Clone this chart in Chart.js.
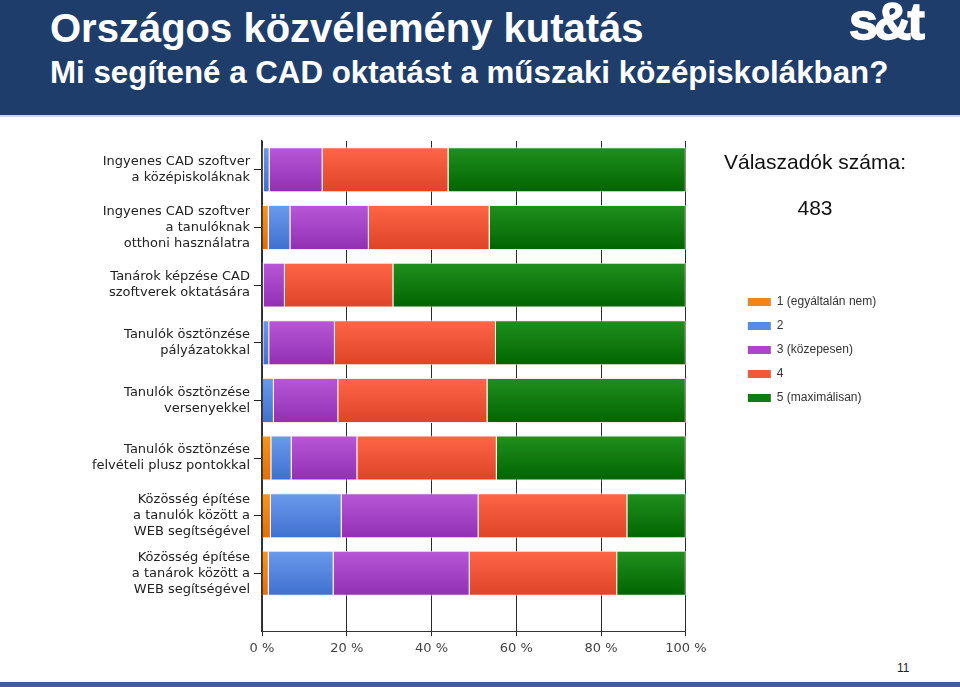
<!DOCTYPE html>
<html>
<head>
<meta charset="utf-8">
<script src="https://cdn.jsdelivr.net/npm/chart.js@4.4.1/dist/chart.umd.min.js"></script>
<style>
  html, body { margin: 0; padding: 0; width: 960px; height: 687px; overflow: hidden; background: #fff; }
  .head { position: absolute; left: 0; top: 0; width: 960px; height: 115px; background: #1e3d6b; border-bottom: 2px solid #cfd6e0; }
  .t1, .t2, .logo { position: absolute; color: #fff; font-family: "Liberation Sans", Arial, sans-serif; font-weight: bold; white-space: nowrap; }
  .t1 { left: 50px; top: 8px; font-size: 40px; line-height: 40px; }
  .t2 { left: 50px; top: 57px; font-size: 31.3px; line-height: 31px; }
  .logo { left: 849px; top: -5px; font-size: 52px; line-height: 52px; letter-spacing: -4px; -webkit-text-stroke: 1.5px #fff; }
  #wrap { position: absolute; left: 0; top: 125px; width: 960px; height: 545px; }
  .resp { position: absolute; left: 700px; width: 230px; text-align: center; font: 21px "Liberation Sans", Arial, sans-serif; color: #111; }
  .cut { position: absolute; left: 0; top: 652px; width: 960px; height: 28px; background: #fff; }
  .page { position: absolute; left: 897px; top: 661px; font: 12px "Liberation Sans", Arial, sans-serif; color: #222; }
  .foot { position: absolute; left: 0; top: 682px; width: 960px; height: 5px; background: #3e5f96; }
</style>
</head>
<body>
<div class="head">
  <div class="t1">Országos közvélemény kutatás</div>
  <div class="t2">Mi segítené a CAD oktatást a műszaki középiskolákban?</div>
  <div class="logo">s&amp;t</div>
</div>
<div id="wrap"><canvas id="chart"></canvas></div>
<div class="resp" style="top:150px">Válaszadók száma:</div>
<div class="resp" id="count" style="top:196px"></div>
<div class="cut"></div>
<div class="page">11</div>
<div class="foot"></div>

<script>
// kérdések (categories)
var categories = [
    ['Ingyenes CAD szoftver', 'a középiskoláknak'],
    ['Ingyenes CAD szoftver', 'a tanulóknak', 'otthoni használatra'],
    ['Tanárok képzése CAD', 'szoftverek oktatására'],
    ['Tanulók ösztönzése', 'pályázatokkal'],
    ['Tanulók ösztönzése', 'versenyekkel'],
    ['Tanulók ösztönzése', 'felvételi plusz pontokkal'],
    ['Közösség építése', 'a tanulók között a', 'WEB segítségével'],
    ['Közösség építése', 'a tanárok között a', 'WEB segítségével']
];

var seriesNames = ['1 (egyáltalán nem)', '2', '3 (közepesen)', '4', '5 (maximálisan)'];

// percent values per answer
var answer1 = [0.4, 1.6, 0.0, 0.3, 0.2, 2.2, 2.1, 1.6];
var answer2 = [1.4, 5.1, 0.4, 1.4, 2.6, 4.8, 16.7, 15.3];
var answer3 = [12.5, 18.5, 5.0, 15.5, 15.2, 15.5, 32.3, 32.1];
var answer4 = [29.7, 28.5, 25.6, 38.0, 35.2, 32.9, 35.1, 34.8];
var answer5 = [56.0, 46.3, 69.0, 44.8, 46.8, 44.6, 13.8, 16.2];

var xTicks = [0, 20, 40, 60, 80, 100];
var respondents = 483;

document.getElementById('count').textContent = respondents;

// chart colors: flat, gradient top, gradient bottom
var colors = ['#f08519', '#5b8be0', '#a848c8', '#f05a3c', '#137a17'];
var topColors = ['#f7961f', '#6b9bec', '#b858d8', '#ff6648', '#21901f'];
var bottomColors = ['#e06e08', '#3e6fcf', '#912fb2', '#dd4326', '#006400'];

var values = [answer1, answer2, answer3, answer4, answer5];

function barFill(i) {
    return function (ctx) {
        if (ctx.type !== 'data') return colors[i];
        var chart = ctx.chart;
        var yScale = chart.scales.y;
        if (!yScale || !ctx.parsed) return colors[i];
        var yc = yScale.getPixelForValue(ctx.parsed.y);
        var g = chart.ctx.createLinearGradient(0, yc - 23, 0, yc + 23);
        g.addColorStop(0, topColors[i]);
        g.addColorStop(1, bottomColors[i]);
        return g;
    };
}

var datasets = values.map(function (vals, i) {
    return {
        label: seriesNames[i],
        data: vals.map(function (v, j) { return { x: v, y: j }; }),
        backgroundColor: barFill(i),
        borderColor: 'rgba(255,232,222,0.85)',
        borderWidth: 1,
        xAxisID: 'x',
        yAxisID: 'y',
        barPercentage: 0.78,
        categoryPercentage: 1
    };
});

var labelFont = { family: 'DejaVu Sans', size: 13, lineHeight: '16px' };

new Chart(document.getElementById('chart'), {
    type: 'bar',
    data: { datasets: datasets },
    options: {
        indexAxis: 'y',
        responsive: true,
        maintainAspectRatio: false,
        animation: false,
        layout: { padding: { top: 16, right: 77, bottom: 9, left: 0 } },
        scales: {
            x: {
                type: 'linear',
                position: 'bottom',
                stacked: true,
                min: 0,
                max: 100,
                afterBuildTicks: function (axis) {
                    axis.ticks = xTicks.map(function (v) { return { value: v }; });
                },
                afterFit: function (axis) {
                    axis.height = 30;
                    axis.paddingLeft = 0;
                    axis.paddingRight = 0;
                },
                grid: { color: '#2a2a2a', tickLength: 5 },
                border: { color: '#333' },
                ticks: {
                    padding: 5,
                    color: '#444',
                    font: { family: 'DejaVu Sans', size: 13 },
                    callback: function (v) { return v + ' %'; }
                }
            },
            y: {
                type: 'linear',
                position: 'left',
                stacked: true,
                reverse: true,
                offset: false,
                min: -0.5,
                max: 8,
                afterBuildTicks: function (axis) {
                    axis.ticks = categories.map(function (c, i) { return { value: i }; });
                },
                afterFit: function (axis) {
                    axis.width = 262;
                    axis.paddingTop = 0;
                    axis.paddingBottom = 0;
                },
                grid: { drawOnChartArea: false, offset: false, tickLength: 8, color: '#222' },
                border: { color: '#333', width: 1.5 },
                ticks: {
                    autoSkip: false,
                    padding: 4,
                    color: '#222',
                    font: labelFont,
                    callback: function (v) { return categories[v] || ''; }
                }
            },
            gap: {
                type: 'linear',
                axis: 'y',
                position: 'right',
                display: true,
                grid: { display: false },
                border: { display: false },
                ticks: { display: false },
                afterFit: function (axis) { axis.width = 50; }
            }
        },
        plugins: {
            tooltip: { enabled: false },
            legend: {
                position: 'right',
                align: 'start',
                title: {
                    display: true,
                    text: '',
                    font: { family: 'Liberation Sans', size: 21, lineHeight: '45px' },
                    padding: { top: 11.5, bottom: 86.5 }
                },
                labels: {
                    boxWidth: 23,
                    boxHeight: 8,
                    padding: 12,
                    color: '#333',
                    font: { family: 'Liberation Sans', size: 12 },
                    generateLabels: function (chart) {
                        return seriesNames.map(function (name, i) {
                            return {
                                text: name,
                                fillStyle: colors[i],
                                strokeStyle: colors[i],
                                lineWidth: 0,
                                fontColor: '#333',
                                datasetIndex: i
                            };
                        });
                    }
                }
            }
        }
    }
});
</script>
</body>
</html>
